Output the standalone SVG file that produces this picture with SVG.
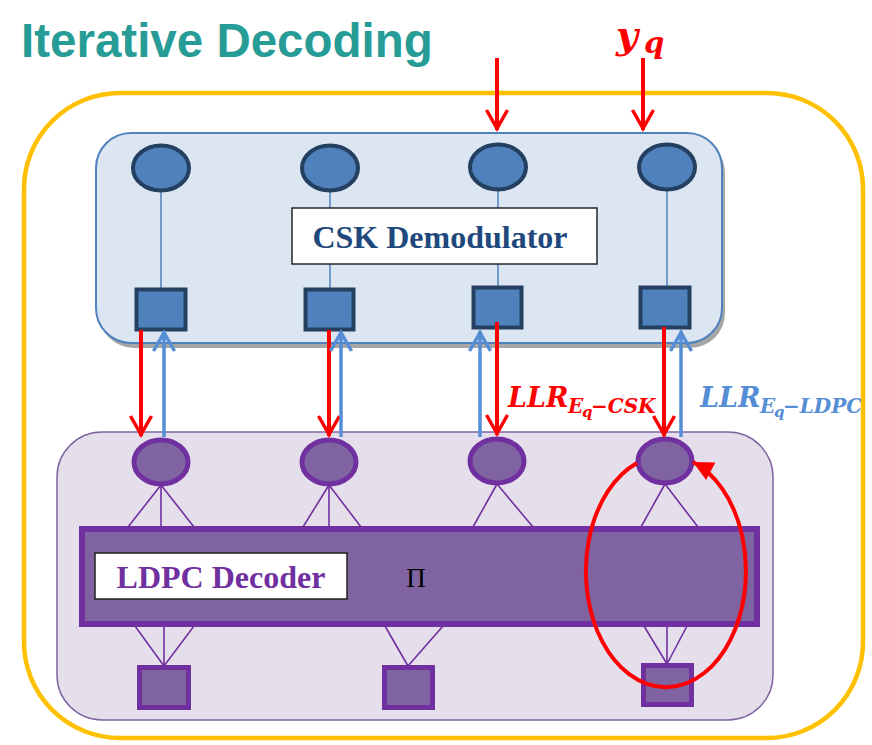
<svg xmlns="http://www.w3.org/2000/svg" width="872" height="745" viewBox="0 0 872 745">
<style>
.title{font-family:"Liberation Sans",Arial,sans-serif;font-weight:bold;font-size:47.5px;fill:#279C97}
.math{font-family:"DejaVu Serif",serif;font-weight:bold;font-style:italic}
.lbl{font-family:"Liberation Serif","Times New Roman",serif;font-weight:bold;font-size:32px}
.vnode{fill:#4F81BD;stroke:#243F60;stroke-width:4}
.cnode{fill:#8064A2;stroke:#7030A0;stroke-width:5}
.thinb{stroke:#4F81BD;stroke-width:1.5;fill:none}
.thinp{stroke:#7030A0;stroke-width:1.6;fill:none}
.red{stroke:#FF0000;stroke-width:4;fill:none}
.blue{stroke:#558ED5;stroke-width:3.5;fill:none}
</style>
<defs>
<marker id="chevR" markerUnits="userSpaceOnUse" markerWidth="30" markerHeight="30" viewBox="-30 -15 30 30" refX="0" refY="0" orient="auto" overflow="visible">
<path d="M-20,-10.5 L-1.5,0 L-20,10.5" fill="none" stroke="#FF0000" stroke-width="3.5"/>
</marker>
<marker id="chevB" markerUnits="userSpaceOnUse" markerWidth="30" markerHeight="30" viewBox="-30 -15 30 30" refX="0" refY="0" orient="auto" overflow="visible">
<path d="M-20,-10.5 L-1.5,0 L-20,10.5" fill="none" stroke="#558ED5" stroke-width="3.5"/>
</marker>
<marker id="triR" markerUnits="userSpaceOnUse" markerWidth="30" markerHeight="30" viewBox="-30 -15 30 30" refX="0" refY="0" orient="auto" overflow="visible">
<path d="M-20,-10 L0,0 L-20,10 Z" fill="#FF0000"/>
</marker>
<clipPath id="clipR"><rect x="0" y="0" width="861" height="745"/></clipPath>
</defs>

<text class="title" x="21" y="57">Iterative Decoding</text>

<g id="outer">
<rect x="24" y="93" width="839" height="645" rx="96" fill="none" stroke="#FFC000" stroke-width="4.5"/>
</g>

<g id="csk-block">
<rect x="99" y="138" width="626" height="210" rx="35" fill="#A6A6A6"/>
<rect x="96" y="133" width="626" height="210" rx="35" fill="#DCE6F2" stroke="#4F81BD" stroke-width="2"/>
</g>

<g id="ldpc-block">
<rect x="57" y="432" width="716" height="288" rx="45" fill="#E5DFEC" stroke="#8064A2" stroke-width="1.5"/>
</g>

<g id="csk-edges">
<line class="thinb" x1="161" y1="190" x2="161" y2="290"/>
<line class="thinb" x1="330" y1="190" x2="330" y2="290"/>
<line class="thinb" x1="498" y1="189" x2="498" y2="288"/>
<line class="thinb" x1="667" y1="189" x2="667" y2="288"/>
</g>

<g id="csk-label">
<rect x="292" y="208" width="305" height="56" fill="#FFFFFF" stroke="#262626" stroke-width="1.5"/>
<text class="lbl" x="440" y="248" text-anchor="middle" fill="#1F497D">CSK Demodulator</text>
</g>

<g id="v1"><ellipse class="vnode" cx="161" cy="168" rx="28" ry="22.5"/></g>
<g id="v2"><ellipse class="vnode" cx="330" cy="168" rx="28" ry="22.5"/></g>
<g id="v3"><ellipse class="vnode" cx="498" cy="167" rx="28" ry="22.5"/></g>
<g id="v4"><ellipse class="vnode" cx="667" cy="167" rx="28" ry="22.5"/></g>

<g id="s1"><rect class="vnode" x="136.5" y="289.5" width="49" height="40" stroke-width="5"/></g>
<g id="s2"><rect class="vnode" x="305.5" y="289.5" width="48" height="40" stroke-width="5"/></g>
<g id="s3"><rect class="vnode" x="473.5" y="287.5" width="48" height="40" stroke-width="5"/></g>
<g id="s4"><rect class="vnode" x="640.5" y="287.5" width="49" height="40" stroke-width="5"/></g>

<g id="ldpc-edges">
<line class="thinp" x1="161" y1="485" x2="128" y2="527"/>
<line class="thinp" x1="161" y1="485" x2="161" y2="527"/>
<line class="thinp" x1="161" y1="485" x2="194" y2="527"/>
<line class="thinp" x1="329" y1="485" x2="303" y2="527"/>
<line class="thinp" x1="329" y1="485" x2="329" y2="527"/>
<line class="thinp" x1="329" y1="485" x2="361" y2="527"/>
<line class="thinp" x1="497" y1="484" x2="473" y2="527"/>
<line class="thinp" x1="497" y1="484" x2="533" y2="527"/>
<line class="thinp" x1="665" y1="484" x2="641" y2="527"/>
<line class="thinp" x1="665" y1="484" x2="698" y2="527"/>
<line class="thinp" x1="135" y1="626" x2="164" y2="666"/>
<line class="thinp" x1="164" y1="626" x2="164" y2="666"/>
<line class="thinp" x1="194" y1="626" x2="164" y2="666"/>
<line class="thinp" x1="385" y1="626" x2="408" y2="666"/>
<line class="thinp" x1="443" y1="626" x2="408" y2="666"/>
<line class="thinp" x1="644" y1="626" x2="667" y2="664"/>
<line class="thinp" x1="667" y1="626" x2="667" y2="664"/>
<line class="thinp" x1="687" y1="626" x2="667" y2="664"/>
</g>

<g id="ldpc-band">
<rect x="82" y="529" width="675" height="95" fill="#8064A2" stroke="#7030A0" stroke-width="6"/>
<rect x="95" y="553" width="252" height="46" fill="#FFFFFF" stroke="#222222" stroke-width="1.5"/>
<text class="lbl" x="221" y="588" text-anchor="middle" fill="#7030A0">LDPC Decoder</text>
<text x="416" y="587" text-anchor="middle" font-family="'Liberation Serif','Times New Roman',serif" font-size="27" fill="#000000">Π</text>
</g>

<g id="b1"><ellipse class="cnode" cx="161" cy="462" rx="27" ry="22"/></g>
<g id="b2"><ellipse class="cnode" cx="329" cy="462" rx="27" ry="22"/></g>
<g id="b3"><ellipse class="cnode" cx="497" cy="461" rx="27" ry="22"/></g>
<g id="b4"><ellipse class="cnode" cx="665" cy="461" rx="27" ry="22"/></g>

<g id="c1"><rect class="cnode" x="139.5" y="667.5" width="49" height="40"/></g>
<g id="c2"><rect class="cnode" x="384.5" y="667.5" width="48" height="40"/></g>
<g id="c3"><rect class="cnode" x="643.5" y="665.5" width="48" height="39"/></g>

<g id="connectors">
<line class="red" stroke-width="3.5" x1="497" y1="58" x2="497" y2="130" marker-end="url(#chevR)"/>
<line class="red" stroke-width="3.5" x1="643" y1="58" x2="643" y2="130" marker-end="url(#chevR)"/>
<line class="red" x1="141" y1="330" x2="141" y2="436" marker-end="url(#chevR)"/>
<line class="blue" x1="164" y1="437" x2="164" y2="331" marker-end="url(#chevB)"/>
<line class="red" x1="329" y1="330" x2="329" y2="436" marker-end="url(#chevR)"/>
<line class="blue" x1="341" y1="437" x2="341" y2="331" marker-end="url(#chevB)"/>
<line class="blue" x1="480" y1="437" x2="480" y2="331" marker-end="url(#chevB)"/>
<line class="red" x1="497" y1="322" x2="497" y2="435" marker-end="url(#chevR)"/>
<line class="red" x1="664" y1="327" x2="664" y2="436" marker-end="url(#chevR)"/>
<line class="blue" x1="681" y1="437" x2="681" y2="331" marker-end="url(#chevB)"/>
<path class="red" d="M637,463 A80,116 0 1 0 693,462" marker-end="url(#triR)"/>
</g>

<g id="labels">
<text class="math" fill="#FF0000"><tspan x="616" y="48" font-size="38">y</tspan><tspan x="644" y="53" font-size="29">q</tspan></text>
<text class="math" fill="#FF0000"><tspan x="508" y="407" font-size="27">LLR</tspan><tspan x="568" y="413" font-size="20">E</tspan><tspan x="582" y="417" font-size="15">q</tspan><tspan x="591" y="413" font-size="20">−CSK</tspan></text>
<text class="math" fill="#558ED5" clip-path="url(#clipR)"><tspan x="700" y="407" font-size="27">LLR</tspan><tspan x="760" y="413" font-size="20">E</tspan><tspan x="774" y="417" font-size="15">q</tspan><tspan x="783" y="413" font-size="20">−LDPC</tspan></text>
</g>
</svg>
